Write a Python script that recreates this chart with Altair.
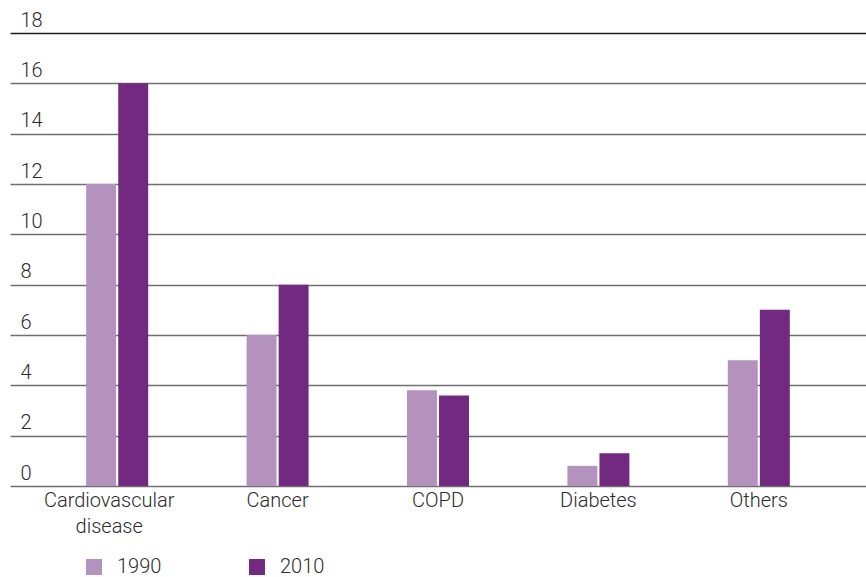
import altair as alt
import pandas as pd

# Deaths by cause, 1990 vs 2010 (millions)
causes = ["Cardiovascular disease", "Cancer", "COPD", "Diabetes", "Others"]
years = ["1990", "2010"]
values_1990 = [12.0, 6.0, 3.8, 0.8, 5.0]
values_2010 = [16.0, 8.0, 3.6, 1.3, 7.0]
y_ticks = [0, 2, 4, 6, 8, 10, 12, 14, 16, 18]

rows = []
for c, a, b in zip(causes, values_1990, values_2010):
    rows.append({"cause": c, "year": "1990", "value": a})
    rows.append({"cause": c, "year": "2010", "value": b})
df = pd.DataFrame(rows)

FONT = "Roboto"
TEXT = "#2b2b2b"
FS = 20

bars = alt.Chart(df).mark_bar().encode(
    x=alt.X(
        "cause:N",
        sort=causes,
        title=None,
        scale=alt.Scale(paddingInner=0.6135, paddingOuter=0.475),
        axis=alt.Axis(
            domain=False,
            ticks=False,
            grid=False,
            labelAngle=0,
            labelFont=FONT,
            labelFontWeight=300,
            labelFontSize=FS,
            labelColor=TEXT,
            labelPadding=4,
            labelLineHeight=26,
            labelExpr="split(datum.label, ' ')",
            labelOffset={"condition": {"test": "datum.value == 'Cardiovascular disease'", "value": -8}, "value": 0},
        ),
    ),
    xOffset=alt.XOffset("year:N", sort=years, scale=alt.Scale(paddingInner=0.065)),
    y=alt.Y(
        "value:Q",
        title=None,
        scale=alt.Scale(domain=[0, 18], nice=False),
        axis=alt.Axis(
            values=y_ticks,
            domain=False,
            ticks=False,
            grid=True,
            gridColor={"condition": {"test": "datum.value == 18", "value": "#1e1e1e"}, "value": "#6f6f6f"},
            gridWidth=1.3,
            labelAlign="left",
            labelBaseline="alphabetic",
            labelPadding=-10,
            labelOffset=-7,
            labelFont=FONT,
            labelFontWeight=300,
            labelFontSize=FS,
            labelColor=TEXT,
        ),
    ),
    color=alt.Color(
        "year:N",
        sort=years,
        scale=alt.Scale(domain=years, range=["#b392bd", "#722a80"]),
        legend=alt.Legend(
            title=None,
            orient="none",
            direction="horizontal",
            legendX=74,
            legendY=524,
            symbolType="square",
            symbolSize=256,
            symbolStrokeWidth=0,
            symbolOpacity=1,
            labelFont=FONT,
            labelFontWeight=300,
            labelFontSize=FS,
            labelColor=TEXT,
            labelOffset=13,
            columnPadding=85,
            padding=0,
        ),
    ),
)

chart = bars.properties(
    width=856,
    height=453,
    autosize=alt.AutoSizeParams(type="none"),
    padding={"left": 10, "top": 33, "right": 0, "bottom": 91},
).configure(background="white").configure_view(stroke=None)

chart.save("out.html", embed_options={"renderer": "svg", "actions": False})
